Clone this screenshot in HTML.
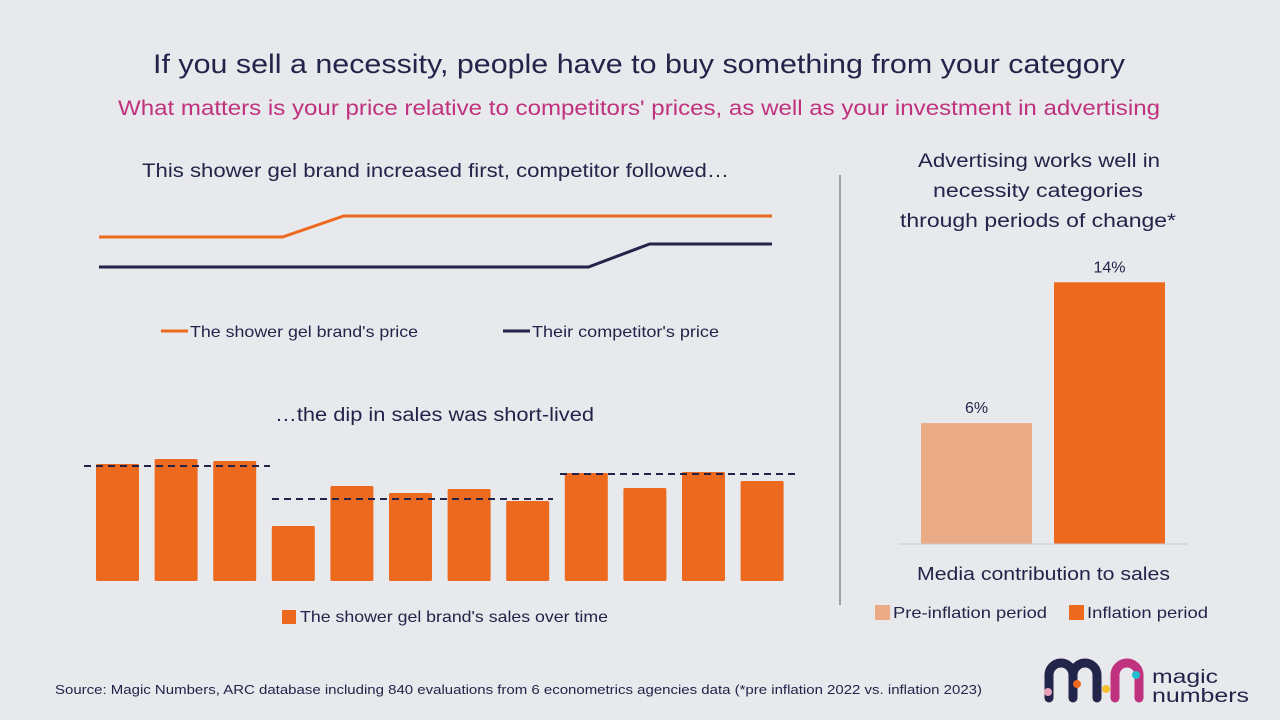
<!DOCTYPE html>
<html><head><meta charset="utf-8"><style>
body{margin:0;width:1280px;height:720px;background:#e8e9ec;font-family:"Liberation Sans",sans-serif;overflow:hidden;position:relative}
</style></head><body>
<svg id="c" width="1280" height="720" style="position:absolute;left:0;top:0" font-family="Liberation Sans, sans-serif"></svg>
<script>
const periods=[0,1,2,3,4,5,6,7,8,9,10,11];
const brandPrice=[130,130,130,130,151,151,151,151,151,151,151,151];
const compPrice=[100,100,100,100,100,100,100,100,100,123,123,123];
const sales=[117,122,120,55,95,88,92,80,108,93,109,100];
const avgGroups=[[0,2,115],[3,7,82],[8,11,107]];
const mediaCats=["Pre-inflation period","Inflation period"];
const mediaVals=[6,14];
const mediaLabels=["6%","14%"];
const dashExt=[[84,270],[272,553],[560,797]];
const NS="http://www.w3.org/2000/svg",svg=document.getElementById('c');
function el(t,a,txt){const e=document.createElementNS(NS,t);for(const k in a)e.setAttribute(k,a[k]);if(txt!==undefined)e.textContent=txt;svg.appendChild(e);return e;}
function tx(x1,x2,y,size,fill,s,name){const e=el('text',{x:x1,y:y,'font-size':size,fill:fill,textLength:x2-x1,lengthAdjust:'spacingAndGlyphs'},s);

return e;}
tx(153,1125,73,27,'#22244a','If you sell a necessity, people have to buy something from your category','title');
tx(118,1160,115,21,'#c0317e',"What matters is your price relative to competitors' prices, as well as your investment in advertising",'subtitle');
// price chart
const px=i=>99+i*(673/11), py=v=>367-v;
let l=el('polyline',{points:periods.map(i=>px(i)+','+py(brandPrice[i])).join(' '),fill:'none',stroke:'#ec691e','stroke-width':3});


l=el('polyline',{points:periods.map(i=>px(i)+','+py(compPrice[i])).join(' '),fill:'none',stroke:'#22244a','stroke-width':3});


tx(142,729,177,19,'#22244a','This shower gel brand increased first, competitor followed…','price-chart-title');
el('line',{x1:161,x2:188,y1:331,y2:331,stroke:'#ec691e','stroke-width':3});
tx(190,418,337,16,'#22244a',"The shower gel brand's price",'legend-brand-price');
el('line',{x1:503,x2:530,y1:331,y2:331,stroke:'#22244a','stroke-width':3});
tx(532,719,337,16,'#22244a',"Their competitor's price",'legend-competitor-price');
// sales
const sx=i=>96+i*58.6, sy=v=>581-v;
tx(275,594,421,19,'#22244a','…the dip in sales was short-lived','sales-chart-title');
sales.forEach((v,i)=>{const r=el('rect',{x:sx(i),y:sy(v),width:43,height:v,fill:'#ec691e',rx:1.5});

});
avgGroups.forEach((g,k)=>{const d=el('line',{x1:dashExt[k][0],x2:dashExt[k][1],y1:sy(g[2]),y2:sy(g[2]),stroke:'#22244a','stroke-width':2,'stroke-dasharray':'7 5'});

});
el('rect',{x:282,y:610,width:14,height:14,fill:'#ec691e'});
tx(300,608,622,16,'#22244a',"The shower gel brand's sales over time",'legend-sales');
el('line',{x1:840,x2:840,y1:175,y2:605,stroke:'#55566a','stroke-width':1});
// media chart
tx(918,1160,167,19,'#22244a','Advertising works well in','media-chart-title');
tx(933,1143,197,19,'#22244a','necessity categories','media-chart-title');
tx(900,1176,227,19,'#22244a','through periods of change*','media-chart-title');
const mx=i=>921+i*133, my=v=>544-(v+0.87)*17.6;
const mcol=['#ebab87','#ec691e'];
mediaVals.forEach((v,i)=>{const r=el('rect',{x:mx(i),y:my(v),width:111,height:544-my(v),fill:mcol[i]});


const lb=el('text',{x:mx(i)+55.5,y:my(v)-10,'text-anchor':'middle','font-size':16,fill:'#22244a'},mediaLabels[i]);

});
el('line',{x1:898,x2:1188,y1:544,y2:544,stroke:'#c9cad6','stroke-width':1});
tx(917,1170,580,18,'#22244a','Media contribution to sales','media-axis-title');
el('rect',{x:875,y:605,width:15,height:15,fill:mcol[0]});
tx(893,1047,618,16,'#22244a',mediaCats[0],'media-legend-entry');
el('rect',{x:1069,y:605,width:15,height:15,fill:mcol[1]});
tx(1087,1208,618,16,'#22244a',mediaCats[1],'media-legend-entry');
tx(55,982,694,12.5,'#22244a','Source: Magic Numbers, ARC database including 840 evaluations from 6 econometrics agencies data (*pre inflation 2022 vs. inflation 2023)','source-note');
// logo
el('path',{d:'M1049 698 V675 a12 12 0 0 1 24 0 V698 M1073 675 a12 12 0 0 1 24 0 V698',fill:'none',stroke:'#22244a','stroke-width':9,'stroke-linecap':'round'});
el('path',{d:'M1115 698 V675 a12 12 0 0 1 24 0 V698',fill:'none',stroke:'#c0317e','stroke-width':9,'stroke-linecap':'round'});
el('circle',{cx:1048,cy:692,r:4,fill:'#e8a0bb'});el('circle',{cx:1077,cy:684,r:4,fill:'#ec691e'});
el('circle',{cx:1106,cy:689,r:4,fill:'#f5c02c'});el('circle',{cx:1136,cy:675,r:4,fill:'#1fbfce'});
tx(1152,1218,683,19,'#22244a','magic','logo-text');
tx(1152,1249,702,19,'#22244a','numbers','logo-text');
</script>
</body></html>
